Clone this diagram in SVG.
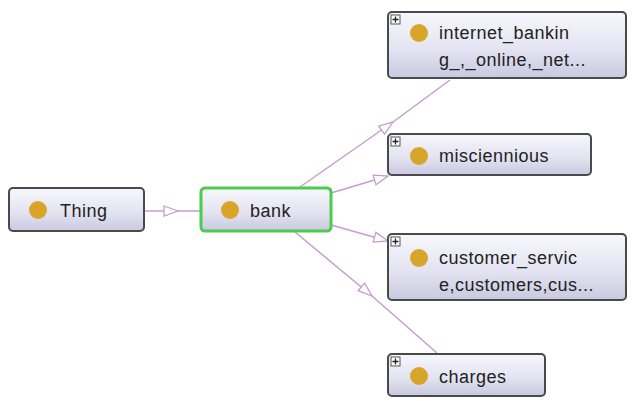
<svg xmlns="http://www.w3.org/2000/svg" width="632" height="401" viewBox="0 0 632 401">
<defs>
<linearGradient id="boxg" x1="0" y1="0" x2="0" y2="1">
<stop offset="0" stop-color="#f7f7fc"/>
<stop offset="0.55" stop-color="#e4e4f2"/>
<stop offset="1" stop-color="#c9c9e0"/>
</linearGradient>
<marker id="tri" viewBox="0 0 16 12" refX="15" refY="6" markerWidth="16" markerHeight="12" markerUnits="userSpaceOnUse" orient="auto">
<path d="M1,1 L15,6 L1,11 Z" fill="#fff" stroke="#c89cd0" stroke-width="1.3"/>
</marker>
</defs>
<style>
.box{fill:url(#boxg);stroke:#4a4a4a;stroke-width:2}
.sel{fill:url(#boxg);stroke:#4ccb4c;stroke-width:3}
.dot{fill:#d7a52a}
.lbl{font-family:"Liberation Sans",Arial,sans-serif;font-size:18px;letter-spacing:0.5px;fill:#222}
.edge{fill:none;stroke:#c89cd0;stroke-width:1.5}
.pbox{fill:#fff;stroke:#555;stroke-width:1}
.plus{stroke:#222;stroke-width:1.3}
</style>
<rect width="632" height="401" fill="#fff"/>
<g id="connectors">
<path class="edge" d="M145,211 L178,211 L200,211" marker-mid="url(#tri)"/>
<path class="edge" d="M300,187 L393,122 L450,80" marker-mid="url(#tri)"/>
<path class="edge" d="M331,193 L388,176"  marker-end="url(#tri)"/>
<path class="edge" d="M331,225 L388,241" marker-end="url(#tri)"/>
<path class="edge" d="M295,232 L372,296 L437,353" marker-mid="url(#tri)"/>
</g>
<g id="node-thing">
<rect class="box" x="9" y="188" width="135" height="43" rx="4"/>
<circle class="dot" cx="38" cy="210" r="9"/>
<text class="lbl" x="60" y="217">Thing</text>
</g>
<g id="node-bank">
<rect class="sel" x="201" y="188" width="130" height="43" rx="4"/>
<circle class="dot" cx="230" cy="210" r="9"/>
<text class="lbl" x="250" y="217">bank</text>
</g>
<g id="node-internet">
<rect class="box" x="388" y="12" width="238" height="66" rx="4"/>
<rect class="pbox" x="391" y="15" width="9" height="9"/>
<path class="plus" d="M392.5,19.5 H398.5 M395.5,16.5 V22.5"/>
<circle class="dot" cx="419" cy="33" r="9"/>
<text class="lbl" x="439" y="39">internet_bankin</text>
<text class="lbl" x="439" y="66">g_,_online,_net...</text>
</g>
<g id="node-misc">
<rect class="box" x="388" y="134" width="203" height="41" rx="4"/>
<rect class="pbox" x="391" y="137" width="9" height="9"/>
<path class="plus" d="M392.5,141.5 H398.5 M395.5,138.5 V144.5"/>
<circle class="dot" cx="419" cy="156" r="9"/>
<text class="lbl" x="439" y="162">misciennious</text>
</g>
<g id="node-customer">
<rect class="box" x="388" y="234" width="238" height="66" rx="4"/>
<rect class="pbox" x="391" y="237" width="9" height="9"/>
<path class="plus" d="M392.5,241.5 H398.5 M395.5,238.5 V244.5"/>
<circle class="dot" cx="419" cy="258" r="9"/>
<text class="lbl" x="439" y="264">customer_servic</text>
<text class="lbl" x="439" y="291">e,customers,cus...</text>
</g>
<g id="node-charges">
<rect class="box" x="388" y="354" width="157" height="42" rx="4"/>
<rect class="pbox" x="391" y="357" width="9" height="9"/>
<path class="plus" d="M392.5,361.5 H398.5 M395.5,358.5 V364.5"/>
<circle class="dot" cx="419" cy="376" r="9"/>
<text class="lbl" x="439" y="383">charges</text>
</g>
</svg>
